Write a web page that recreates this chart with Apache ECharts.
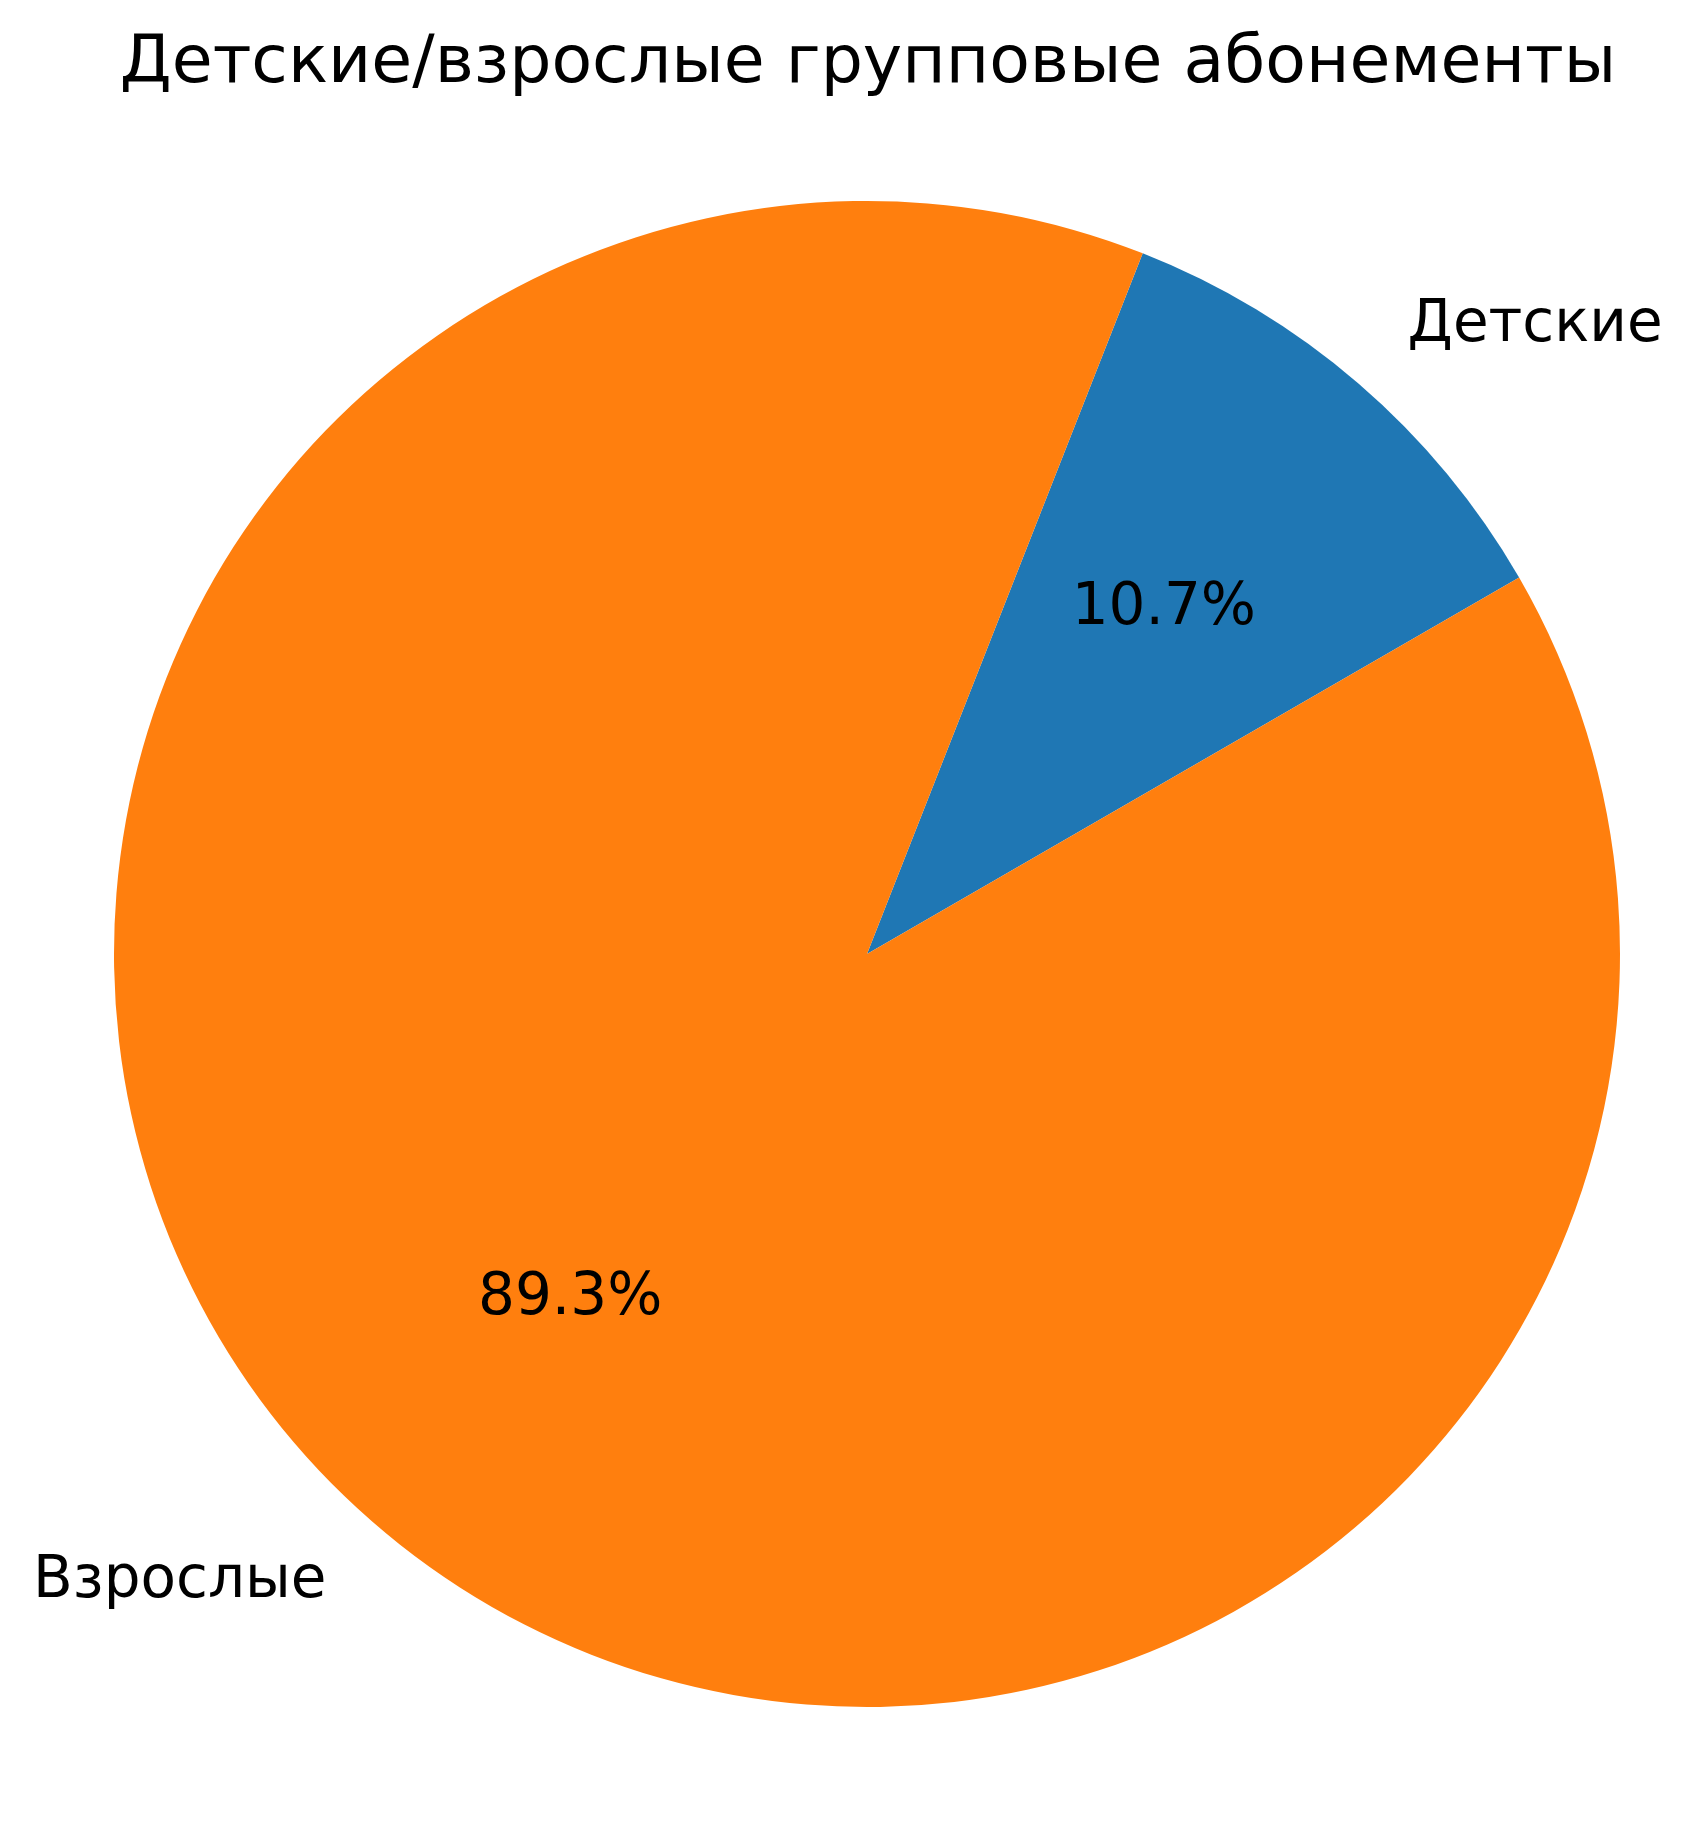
<!DOCTYPE html>
<html>
<head>
<meta charset="utf-8">
<script src="https://cdn.jsdelivr.net/npm/echarts@6/dist/echarts.min.js"></script>
<style>
  html, body { margin: 0; padding: 0; background: #fff; }
  #chart { width: 1705px; height: 1832px; }
</style>
</head>
<body>
<div id="chart"></div>
<script>
const categories = ['Детские', 'Взрослые'];
const values = [10.7, 89.3];
const colors = ['#1f77b4', '#ff7f0e'];

const titleText = 'Детские/взрослые групповые абонементы';

const cx = 867, cy = 954, R = 753;
const font = 'DejaVu Sans';

const chart = echarts.init(document.getElementById('chart'));

const pieData = categories.map(function (name, i) {
    return { name: name, value: values[i], itemStyle: { color: colors[i] } };
});

chart.setOption({
    animation: false,
    title: {
        text: titleText,
        left: cx - 4,
        textAlign: 'center',
        top: 26,
        textStyle: { fontFamily: font, fontSize: 66.5, fontWeight: 'normal', color: '#000' }
    },
    series: [
        {
            // wedges + outer category labels (at 1.1 R)
            type: 'pie',
            center: [cx, cy],
            radius: R,
            clockwise: false,
            startAngle: 30,
            avoidLabelOverlap: false,
            silent: true,
            data: pieData,
            label: {
                show: true,
                position: 'outside',
                formatter: '{b}',
                distanceToLabelLine: 0,
                fontFamily: font,
                fontSize: 58,
                color: '#000'
            },
            labelLine: { show: false, length: R * 0.1, length2: 0 }
        },
        {
            // invisible ring used only to place percent labels at 0.6 R
            type: 'pie',
            center: [cx, cy],
            radius: R * 1.2,
            clockwise: false,
            startAngle: 30,
            avoidLabelOverlap: false,
            silent: true,
            z: 5,
            data: categories.map(function (name, i) {
                return { name: name, value: values[i] };
            }),
            itemStyle: { color: 'rgba(0,0,0,0)' },
            label: {
                show: true,
                position: 'inside',
                formatter: function (p) { return p.percent.toFixed(1) + '%'; },
                fontFamily: font,
                fontSize: 58,
                color: '#000'
            },
            labelLine: { show: false }
        }
    ]
});
</script>
</body>
</html>
